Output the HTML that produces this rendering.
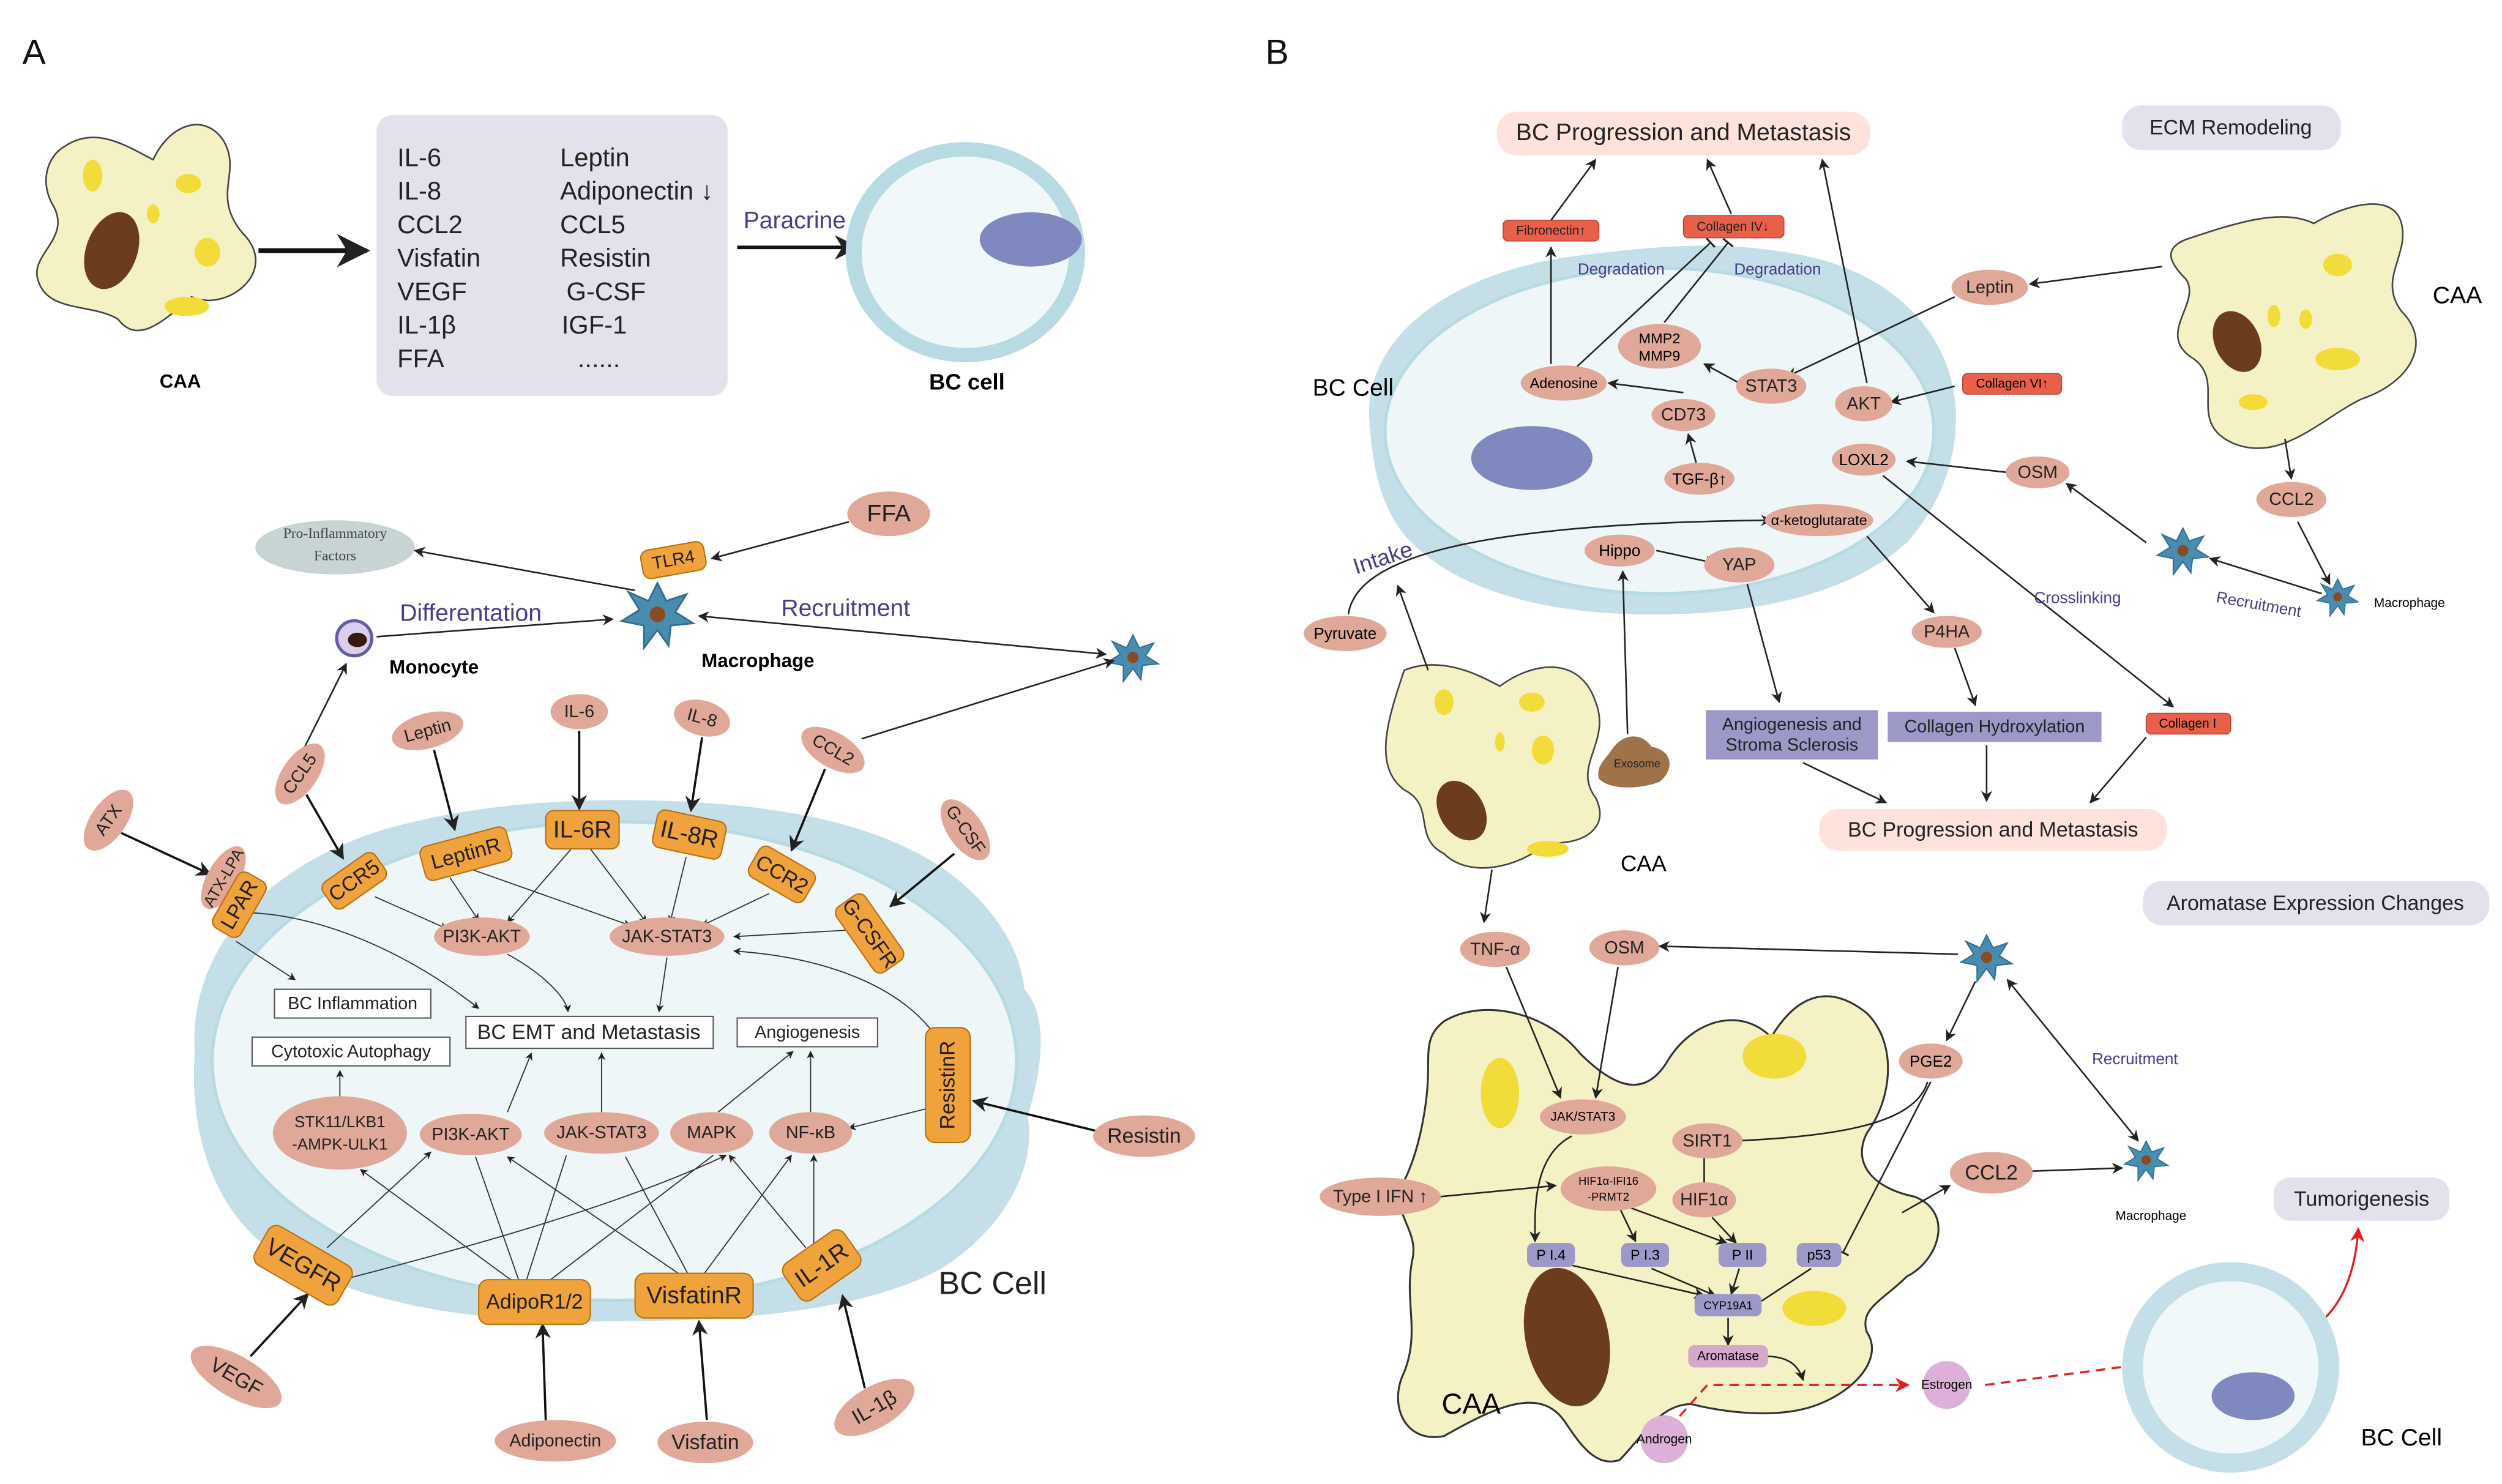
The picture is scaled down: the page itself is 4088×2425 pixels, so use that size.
<!DOCTYPE html>
<html><head><meta charset="utf-8"><style>
html,body{margin:0;padding:0;background:#fff;}
svg{display:block;}
text{font-family:"Liberation Sans",Arial,sans-serif;}
</style></head><body>
<svg width="4088" height="2425" viewBox="0 0 1568 930" xmlns="http://www.w3.org/2000/svg">
<defs>
<marker id="a" viewBox="0 0 10 10" refX="9" refY="5" markerWidth="7" markerHeight="7" orient="auto-start-reverse"><path d="M0,0 L10,5 L0,10 L3,5 z" fill="#222"/></marker>
<marker id="r" viewBox="0 0 10 10" refX="9" refY="5" markerWidth="7" markerHeight="7" orient="auto"><path d="M0,0 L10,5 L0,10 L3,5 z" fill="#e02020"/></marker>
<marker id="t" viewBox="0 0 10 10" refX="5" refY="5" markerWidth="8" markerHeight="8" orient="auto"><path d="M5,0 L5,10" stroke="#222" stroke-width="1.5"/></marker>
<g id="mac"><path d="M0,-14 L4,-6 L13,-9 L8,-1 L16,4 L6,5 L5,14 L0,7 L-6,15 L-6,5 L-16,3 L-8,-2 L-13,-10 L-4,-6 Z" fill="#4a8cb0" stroke="#2f6f93" stroke-width="0.8"/><circle r="3.5" fill="#8a4a22"/></g>
</defs>
<style>
.n{fill:#e0a898;}
.o{fill:#f0a23c;stroke:#b86f10;stroke-width:0.8;}
.l{stroke:#222;stroke-width:1;fill:none;}
.lt{stroke:#333;stroke-width:0.7;fill:none;}
.lk{stroke:#111;stroke-width:1.4;fill:none;}
.s{font-size:11px;fill:#222;text-anchor:middle;dominant-baseline:central;}
.m{font-size:13px;fill:#222;text-anchor:middle;dominant-baseline:central;}
.b{font-size:15px;fill:#222;text-anchor:middle;dominant-baseline:central;}
.p{fill:#4a3a8a;text-anchor:middle;}
.rd{fill:#e8604a;stroke:#c04030;stroke-width:0.6;}
.lv{fill:#9c98c8;}
</style>

<!-- ===== Panel A ===== -->
<text x="14" y="40" font-size="22" fill="#111">A</text>
<path d="M40,92 C60,78 80,92 96,100 C106,78 128,70 140,88 C152,108 132,122 152,146 C176,170 142,196 120,186 C102,202 86,216 74,200 C58,190 30,196 24,176 C18,160 44,150 34,130 C24,114 30,98 40,92 Z" fill="#f4f1c4" stroke="#444" stroke-width="1"/>
<ellipse cx="70" cy="157" rx="16" ry="25" transform="rotate(20 70 157)" fill="#6b3d1e"/>
<ellipse cx="58" cy="110" rx="6" ry="10" fill="#f2dc3a"/><ellipse cx="118" cy="115" rx="8" ry="6" fill="#f2dc3a"/><ellipse cx="130" cy="158" rx="8" ry="9" fill="#f2dc3a"/><ellipse cx="117" cy="192" rx="14" ry="6" fill="#f2dc3a"/><ellipse cx="96" cy="134" rx="4" ry="6" fill="#f2dc3a"/>
<text x="113" y="243" font-size="12" font-weight="bold" text-anchor="middle">CAA</text>
<line x1="162" y1="157" x2="230" y2="157" stroke="#111" stroke-width="3" marker-end="url(#a)"/>
<rect x="236" y="72" width="220" height="176" rx="10" fill="#e4e0ec"/>
<g font-size="16" fill="#222">
<text x="249" y="104">IL-6</text><text x="249" y="125">IL-8</text><text x="249" y="146">CCL2</text><text x="249" y="167">Visfatin</text><text x="249" y="188">VEGF</text><text x="249" y="209">IL-1β</text><text x="249" y="230">FFA</text>
<text x="351" y="104">Leptin</text><text x="351" y="125">Adiponectin ↓</text><text x="351" y="146">CCL5</text><text x="351" y="167">Resistin</text><text x="355" y="188">G-CSF</text><text x="352" y="209">IGF-1</text><text x="362" y="230">......</text>
</g>
<line x1="462" y1="155" x2="537" y2="155" stroke="#111" stroke-width="2.2" marker-end="url(#a)"/>
<text x="498" y="143" font-size="15" class="p">Paracrine</text>
<ellipse cx="605" cy="158" rx="75" ry="69" fill="#b8dae3"/>
<ellipse cx="605" cy="158" rx="65" ry="60" fill="#f0f8fa"/>
<ellipse cx="646" cy="150" rx="32" ry="17" fill="#8088c0"/>
<text x="606" y="244" font-size="14" font-weight="bold" text-anchor="middle">BC cell</text>

<!-- lower A top -->
<ellipse cx="210" cy="343" rx="50" ry="17" fill="#c8d4d4"/>
<text x="210" y="337" font-size="9" text-anchor="middle" fill="#444" style="font-family:'Liberation Serif',serif">Pro-Inflammatory</text>
<text x="210" y="351" font-size="9" text-anchor="middle" fill="#444" style="font-family:'Liberation Serif',serif">Factors</text>
<g transform="translate(412 385) scale(1.4) translate(-412 -385)"><use href="#mac" x="412" y="385"/></g>
<rect x="402" y="342" width="40" height="18" rx="5" class="o" transform="rotate(-10 422 351)"/><text x="422" y="351" class="s" transform="rotate(-10 422 351)">TLR4</text>
<ellipse cx="557" cy="322" rx="26" ry="14" class="n"/><text x="557" y="322" class="b">FFA</text>
<circle cx="222" cy="400" r="11" fill="#d8d0ec" stroke="#6a5aa0" stroke-width="2"/><ellipse cx="224" cy="401" rx="6" ry="4.5" fill="#3a1a10"/>
<text x="272" y="422" font-size="12" font-weight="bold" text-anchor="middle">Monocyte</text>
<text x="475" y="418" font-size="12" font-weight="bold" text-anchor="middle">Macrophage</text>
<text x="295" y="389" font-size="15" class="p">Differentation</text>
<text x="530" y="386" font-size="15" class="p">Recruitment</text>
<use href="#mac" x="710" y="412"/>
<line x1="398" y1="370" x2="260" y2="345" class="l" marker-end="url(#a)"/>
<line x1="532" y1="327" x2="446" y2="350" class="l" marker-end="url(#a)"/>
<line x1="236" y1="399" x2="384" y2="388" class="l" marker-end="url(#a)"/>
<line x1="693" y1="410" x2="438" y2="386" class="l" marker-start="url(#a)" marker-end="url(#a)"/>
<line x1="190" y1="470" x2="217" y2="416" class="l" marker-end="url(#a)"/>
<line x1="540" y1="463" x2="698" y2="414" class="l" marker-end="url(#a)"/>

<!-- big BC cell -->
<path d="M122,660 C118,600 160,545 240,520 C300,503 360,500 420,502 C500,505 570,520 610,560 C630,580 640,600 642,620 C660,640 650,680 644,700 C650,730 630,770 590,795 C545,820 470,828 390,828 C300,830 230,818 180,790 C140,768 118,720 122,660 Z" fill="#c4dfe7"/>
<ellipse cx="385" cy="665" rx="252" ry="150" fill="#eef6f8" stroke="#b8dae3" stroke-width="2"/>
<text x="622" y="811" font-size="20" text-anchor="middle" fill="#222">BC Cell</text>

<!-- ligand arrows -->
<line x1="76" y1="522" x2="132" y2="548" class="lk" marker-end="url(#a)"/>
<line x1="192" y1="498" x2="215" y2="538" class="lk" marker-end="url(#a)"/>
<line x1="272" y1="470" x2="285" y2="520" class="lk" marker-end="url(#a)"/>
<line x1="363" y1="458" x2="363" y2="507" class="lk" marker-end="url(#a)"/>
<line x1="440" y1="462" x2="433" y2="508" class="lk" marker-end="url(#a)"/>
<line x1="517" y1="482" x2="496" y2="533" class="lk" marker-end="url(#a)"/>
<line x1="598" y1="535" x2="558" y2="568" class="lk" marker-end="url(#a)"/>
<line x1="688" y1="709" x2="610" y2="690" class="lk" marker-end="url(#a)"/>
<line x1="157" y1="850" x2="193" y2="811" class="lk" marker-end="url(#a)"/>
<line x1="342" y1="890" x2="340" y2="830" class="lk" marker-end="url(#a)"/>
<line x1="443" y1="890" x2="438" y2="828" class="lk" marker-end="url(#a)"/>
<line x1="542" y1="870" x2="528" y2="812" class="lk" marker-end="url(#a)"/>

<!-- internal arrows -->
<g class="lt">
<line x1="235" y1="562" x2="280" y2="582" marker-end="url(#a)"/>
<line x1="282" y1="550" x2="300" y2="577" marker-end="url(#a)"/>
<line x1="296" y1="545" x2="395" y2="580" marker-end="url(#a)"/>
<line x1="358" y1="532" x2="318" y2="578" marker-end="url(#a)"/>
<line x1="370" y1="532" x2="405" y2="578" marker-end="url(#a)"/>
<line x1="430" y1="537" x2="420" y2="578" marker-end="url(#a)"/>
<line x1="482" y1="560" x2="440" y2="580" marker-end="url(#a)"/>
<line x1="530" y1="583" x2="460" y2="587" marker-end="url(#a)"/>
<path d="M590,655 C570,620 520,600 460,596" marker-end="url(#a)"/>
<line x1="148" y1="590" x2="185" y2="614" marker-end="url(#a)"/>
<path d="M145,572 C200,570 260,600 300,632" marker-end="url(#a)"/>
<path d="M318,598 C340,610 355,625 356,634" marker-end="url(#a)"/>
<line x1="418" y1="600" x2="413" y2="634" marker-end="url(#a)"/>
<line x1="213" y1="688" x2="213" y2="671" marker-end="url(#a)"/>
<line x1="318" y1="697" x2="333" y2="660" marker-end="url(#a)"/>
<line x1="377" y1="697" x2="377" y2="660" marker-end="url(#a)"/>
<line x1="450" y1="697" x2="497" y2="659" marker-end="url(#a)"/>
<line x1="508" y1="697" x2="508" y2="659" marker-end="url(#a)"/>
<line x1="580" y1="695" x2="532" y2="707" marker-end="url(#a)"/>
<line x1="205" y1="782" x2="270" y2="722" marker-end="url(#a)"/>
<path d="M215,802 C260,790 380,760 455,724" marker-end="url(#a)"/>
<line x1="320" y1="802" x2="226" y2="733" marker-end="url(#a)"/>
<line x1="325" y1="802" x2="298" y2="725"/>
<line x1="330" y1="802" x2="355" y2="724"/>
<line x1="345" y1="802" x2="447" y2="724"/>
<line x1="428" y1="800" x2="318" y2="725" marker-end="url(#a)"/>
<line x1="432" y1="800" x2="392" y2="725"/>
<line x1="440" y1="800" x2="496" y2="724" marker-end="url(#a)"/>
<line x1="505" y1="782" x2="457" y2="724" marker-end="url(#a)"/>
<line x1="510" y1="780" x2="510" y2="724" marker-end="url(#a)"/>
</g>

<!-- ligands -->
<g>
<ellipse cx="68" cy="514" rx="22" ry="11" class="n" transform="rotate(-55 68 514)"/><text x="68" y="514" class="s" transform="rotate(-55 68 514)">ATX</text>
<ellipse cx="188" cy="485" rx="22" ry="11" class="n" transform="rotate(-55 188 485)"/><text x="188" y="485" class="s" transform="rotate(-55 188 485)">CCL5</text>
<ellipse cx="268" cy="458" rx="23" ry="11" class="n" transform="rotate(-15 268 458)"/><text x="268" y="458" class="s" transform="rotate(-15 268 458)">Leptin</text>
<ellipse cx="363" cy="446" rx="18" ry="11" class="n"/><text x="363" y="446" class="s">IL-6</text>
<ellipse cx="440" cy="450" rx="18" ry="11" class="n" transform="rotate(15 440 450)"/><text x="440" y="450" class="s" transform="rotate(15 440 450)">IL-8</text>
<ellipse cx="522" cy="470" rx="22" ry="11" class="n" transform="rotate(30 522 470)"/><text x="522" y="470" class="s" transform="rotate(30 522 470)">CCL2</text>
<ellipse cx="605" cy="520" rx="22" ry="11" class="n" transform="rotate(55 605 520)"/><text x="605" y="520" class="s" transform="rotate(55 605 520)">G-CSF</text>
<ellipse cx="717" cy="712" rx="32" ry="13" class="n"/><text x="717" y="712" class="m">Resistin</text>
<ellipse cx="148" cy="863" rx="32" ry="13" class="n" transform="rotate(30 148 863)"/><text x="148" y="863" class="m" transform="rotate(30 148 863)">VEGF</text>
<ellipse cx="348" cy="903" rx="38" ry="13" class="n"/><text x="348" y="903" class="s">Adiponectin</text>
<ellipse cx="442" cy="904" rx="30" ry="13" class="n"/><text x="442" y="904" class="m">Visfatin</text>
<ellipse cx="548" cy="882" rx="28" ry="13" class="n" transform="rotate(-30 548 882)"/><text x="548" y="882" class="m" transform="rotate(-30 548 882)">IL-1β</text>
</g>
<!-- receptors -->
<g>
<ellipse cx="140" cy="550" rx="22" ry="10" class="n" transform="rotate(-60 140 550)"/><text x="140" y="550" font-size="10" fill="#222" text-anchor="middle" dominant-baseline="central" transform="rotate(-60 140 550)">ATX-LPA</text>
<g transform="rotate(-60 150 567)"><rect x="130" y="557" width="40" height="20" rx="5" class="o"/><text x="150" y="567" class="m">LPAR</text></g>
<g transform="rotate(-35 222 552)"><rect x="202" y="542" width="40" height="20" rx="5" class="o"/><text x="222" y="552" class="m">CCR5</text></g>
<g transform="rotate(-15 292 535)"><rect x="264" y="524" width="56" height="22" rx="5" class="o"/><text x="292" y="535" class="m">LeptinR</text></g>
<g><rect x="342" y="508" width="46" height="24" rx="5" class="o"/><text x="365" y="520" class="b">IL-6R</text></g>
<g transform="rotate(12 432 523)"><rect x="410" y="511" width="44" height="24" rx="5" class="o"/><text x="432" y="523" class="b">IL-8R</text></g>
<g transform="rotate(30 490 548)"><rect x="470" y="537" width="40" height="22" rx="5" class="o"/><text x="490" y="548" class="m">CCR2</text></g>
<g transform="rotate(55 545 585)"><rect x="520" y="574" width="50" height="22" rx="5" class="o"/><text x="545" y="585" class="m">G-CSFR</text></g>
<g transform="rotate(-90 594 680)"><rect x="558" y="666" width="72" height="28" rx="6" class="o"/><text x="594" y="680" class="m">ResistinR</text></g>
<g transform="rotate(30 190 793)"><rect x="160" y="779" width="60" height="28" rx="6" class="o"/><text x="190" y="793" class="b">VEGFR</text></g>
<g><rect x="300" y="802" width="70" height="28" rx="6" class="o"/><text x="335" y="816" class="m">AdipoR1/2</text></g>
<g><rect x="398" y="798" width="74" height="28" rx="6" class="o"/><text x="435" y="812" class="b">VisfatinR</text></g>
<g transform="rotate(-35 515 793)"><rect x="492" y="779" width="46" height="28" rx="6" class="o"/><text x="515" y="793" class="b">IL-1R</text></g>
</g>
<!-- internal nodes -->
<ellipse cx="302" cy="587" rx="30" ry="12" class="n"/><text x="302" y="587" class="s">PI3K-AKT</text>
<ellipse cx="418" cy="587" rx="36" ry="12" class="n"/><text x="418" y="587" class="s">JAK-STAT3</text>
<rect x="172" y="620" width="98" height="18" fill="#fff" stroke="#555" stroke-width="0.8"/><text x="221" y="629" class="s">BC Inflammation</text>
<rect x="158" y="650" width="124" height="18" fill="#fff" stroke="#555" stroke-width="0.8"/><text x="220" y="659" class="s">Cytotoxic Autophagy</text>
<rect x="292" y="637" width="155" height="20" fill="#fff" stroke="#555" stroke-width="0.8"/><text x="369" y="647" class="m">BC EMT and Metastasis</text>
<rect x="462" y="638" width="88" height="18" fill="#fff" stroke="#555" stroke-width="0.8"/><text x="506" y="647" class="s">Angiogenesis</text>
<ellipse cx="213" cy="710" rx="42" ry="23" class="n"/><text x="213" y="703" font-size="10" text-anchor="middle" dominant-baseline="central" fill="#222">STK11/LKB1</text><text x="213" y="717" font-size="10" text-anchor="middle" dominant-baseline="central" fill="#222">-AMPK-ULK1</text>
<ellipse cx="295" cy="711" rx="32" ry="13" class="n"/><text x="295" y="711" class="s">PI3K-AKT</text>
<ellipse cx="377" cy="710" rx="36" ry="13" class="n"/><text x="377" y="710" class="s">JAK-STAT3</text>
<ellipse cx="446" cy="710" rx="26" ry="13" class="n"/><text x="446" y="710" class="s">MAPK</text>
<ellipse cx="508" cy="710" rx="26" ry="13" class="n"/><text x="508" y="710" class="s">NF-κB</text>

<!-- ===== Panel B ===== -->
<text x="793" y="40" font-size="22" fill="#111">B</text>
<rect x="938" y="70" width="234" height="27" rx="12" fill="#fde3db"/><text x="1055" y="83" class="b">BC Progression and Metastasis</text>
<rect x="1330" y="66" width="137" height="28" rx="12" fill="#e4e0ec"/><text x="1398" y="80" class="m">ECM Remodeling</text>
<!-- BC cell B -->
<path d="M858,262 C856,210 910,170 990,160 C1040,154 1080,150 1130,160 C1180,170 1212,200 1222,235 C1232,270 1222,310 1195,340 C1160,372 1100,385 1040,385 C970,386 910,370 880,335 C864,315 860,290 858,262 Z" fill="#c4dfe7"/>
<ellipse cx="1040" cy="270" rx="172" ry="102" fill="#eef6f8" stroke="#b8dae3" stroke-width="2"/>
<ellipse cx="960" cy="287" rx="38" ry="20" fill="#8088c0"/>
<text x="848" y="248" font-size="15" text-anchor="middle">BC Cell</text>
<!-- CAA top right -->
<path d="M1370,150 C1400,140 1430,130 1450,140 C1470,128 1500,120 1505,140 C1510,160 1490,175 1505,195 C1525,215 1510,240 1480,250 C1455,262 1430,290 1400,278 C1370,265 1395,240 1375,225 C1350,210 1380,190 1370,175 C1360,165 1355,156 1370,150 Z" fill="#f4f1c4" stroke="#444" stroke-width="1"/>
<ellipse cx="1402" cy="214" rx="14" ry="20" transform="rotate(-25 1402 214)" fill="#6b3d1e"/>
<ellipse cx="1465" cy="166" rx="9" ry="7" fill="#f2dc3a"/><ellipse cx="1465" cy="225" rx="14" ry="7" fill="#f2dc3a"/><ellipse cx="1425" cy="198" rx="4" ry="7" fill="#f2dc3a"/><ellipse cx="1412" cy="252" rx="9" ry="5" fill="#f2dc3a"/><ellipse cx="1445" cy="200" rx="4" ry="6" fill="#f2dc3a"/>
<text x="1540" y="190" font-size="15" text-anchor="middle">CAA</text>
<!-- CAA middle -->
<path d="M880,420 C905,410 930,425 940,430 C960,415 990,410 1000,440 C1010,465 985,480 1000,500 C1010,520 990,530 970,528 C950,545 920,550 905,535 C885,525 900,505 880,495 C860,480 870,450 880,420 Z" fill="#f4f1c4" stroke="#444" stroke-width="1"/>
<ellipse cx="916" cy="508" rx="14" ry="20" transform="rotate(-30 916 508)" fill="#6b3d1e"/>
<ellipse cx="905" cy="440" rx="6" ry="8" fill="#f2dc3a"/><ellipse cx="960" cy="440" rx="8" ry="6" fill="#f2dc3a"/><ellipse cx="967" cy="470" rx="7" ry="9" fill="#f2dc3a"/><ellipse cx="970" cy="532" rx="13" ry="5" fill="#f2dc3a"/><ellipse cx="940" cy="465" rx="3" ry="6" fill="#f2dc3a"/>
<path d="M1010,470 C1018,458 1030,460 1035,468 C1048,470 1050,482 1040,490 C1030,494 1010,496 1002,488 C1000,480 1006,476 1010,470 Z" fill="#a0724a"/>
<text x="1026" y="481" font-size="7" text-anchor="middle" fill="#222">Exosome</text>
<text x="1030" y="546" font-size="14" text-anchor="middle">CAA</text>
<!-- B top arrows -->
<g class="l">
<line x1="972" y1="228" x2="972" y2="155" marker-end="url(#a)"/>
<line x1="972" y1="138" x2="1000" y2="100" marker-end="url(#a)"/>
<line x1="988" y1="230" x2="1072" y2="152" marker-end="url(#t)"/>
<line x1="1043" y1="202" x2="1083" y2="152" marker-end="url(#t)"/>
<line x1="1085" y1="134" x2="1070" y2="100" marker-end="url(#a)"/>
<line x1="1170" y1="240" x2="1142" y2="100" marker-end="url(#a)"/>
<line x1="1090" y1="240" x2="1068" y2="228" marker-end="url(#a)"/>
<line x1="1055" y1="246" x2="1008" y2="240" marker-end="url(#a)"/>
<line x1="1063" y1="290" x2="1058" y2="272" marker-end="url(#a)"/>
<line x1="1225" y1="186" x2="1120" y2="236" marker-end="url(#a)"/>
<line x1="1355" y1="167" x2="1272" y2="178" marker-end="url(#a)"/>
<line x1="1225" y1="242" x2="1185" y2="252" marker-end="url(#a)"/>
<line x1="1258" y1="296" x2="1195" y2="289" marker-end="url(#a)"/>
<line x1="1345" y1="340" x2="1295" y2="303" marker-end="url(#a)"/>
<line x1="1432" y1="275" x2="1436" y2="300" marker-end="url(#a)"/>
<line x1="1440" y1="327" x2="1460" y2="366" marker-end="url(#a)"/>
<line x1="1455" y1="372" x2="1385" y2="350" marker-end="url(#a)"/>
<line x1="1180" y1="298" x2="1362" y2="443" marker-end="url(#a)"/>
<line x1="1038" y1="345" x2="1075" y2="353" marker-end="url(#a)"/>
<line x1="1020" y1="460" x2="1017" y2="358" marker-end="url(#a)"/>
<line x1="1095" y1="366" x2="1115" y2="440" marker-end="url(#a)"/>
<line x1="1170" y1="336" x2="1212" y2="384" marker-end="url(#a)"/>
<line x1="1225" y1="406" x2="1238" y2="442" marker-end="url(#a)"/>
<line x1="1130" y1="478" x2="1182" y2="503" marker-end="url(#a)"/>
<line x1="1245" y1="467" x2="1245" y2="502" marker-end="url(#a)"/>
<line x1="1345" y1="462" x2="1310" y2="503" marker-end="url(#a)"/>
<path d="M845,385 C850,350 920,328 1110,326" marker-end="url(#a)"/>
<line x1="895" y1="420" x2="876" y2="367" marker-end="url(#a)"/>
<line x1="935" y1="545" x2="930" y2="578" marker-end="url(#a)"/>
</g>
<rect x="942" y="138" width="60" height="13" rx="3" class="rd"/><text x="972" y="144.5" font-size="8" text-anchor="middle" dominant-baseline="central" fill="#222">Fibronectin↑</text>
<rect x="1055" y="135" width="63" height="14" rx="3" class="rd"/><text x="1086" y="142" font-size="8" text-anchor="middle" dominant-baseline="central" fill="#222">Collagen IV↓</text>
<text x="1016" y="172" font-size="10" class="p">Degradation</text>
<text x="1114" y="172" font-size="10" class="p">Degradation</text>
<ellipse cx="1040" cy="217" rx="26" ry="14" class="n"/><text x="1040" y="212" font-size="9" text-anchor="middle" dominant-baseline="central">MMP2</text><text x="1040" y="223" font-size="9" text-anchor="middle" dominant-baseline="central">MMP9</text>
<ellipse cx="980" cy="240" rx="27" ry="11" class="n"/><text x="980" y="240" font-size="9" text-anchor="middle" dominant-baseline="central">Adenosine</text>
<ellipse cx="1055" cy="260" rx="20" ry="10" class="n"/><text x="1055" y="260" class="s">CD73</text>
<ellipse cx="1065" cy="300" rx="22" ry="10" class="n"/><text x="1065" y="300" font-size="10" text-anchor="middle" dominant-baseline="central">TGF-β↑</text>
<ellipse cx="1110" cy="242" rx="22" ry="11" class="n"/><text x="1110" y="242" class="s">STAT3</text>
<ellipse cx="1168" cy="253" rx="18" ry="11" class="n"/><text x="1168" y="253" class="s">AKT</text>
<ellipse cx="1168" cy="288" rx="20" ry="10" class="n"/><text x="1168" y="288" font-size="10" text-anchor="middle" dominant-baseline="central">LOXL2</text>
<ellipse cx="1140" cy="326" rx="34" ry="10" class="n"/><text x="1140" y="326" font-size="9" text-anchor="middle" dominant-baseline="central">α-ketoglutarate</text>
<ellipse cx="1015" cy="345" rx="22" ry="10" class="n"/><text x="1015" y="345" font-size="10" text-anchor="middle" dominant-baseline="central">Hippo</text>
<ellipse cx="1090" cy="354" rx="22" ry="11" class="n"/><text x="1090" y="354" class="s">YAP</text>
<ellipse cx="1247" cy="180" rx="24" ry="11" class="n"/><text x="1247" y="180" class="s">Leptin</text>
<rect x="1230" y="234" width="62" height="13" rx="3" class="rd"/><text x="1261" y="240.5" font-size="8" text-anchor="middle" dominant-baseline="central">Collagen VI↑</text>
<ellipse cx="1277" cy="296" rx="20" ry="10" class="n"/><text x="1277" y="296" class="s">OSM</text>
<ellipse cx="1436" cy="313" rx="22" ry="11" class="n"/><text x="1436" y="313" class="s">CCL2</text>
<ellipse cx="1220" cy="396" rx="22" ry="10" class="n"/><text x="1220" y="396" class="s">P4HA</text>
<rect x="1345" y="447" width="53" height="13" rx="3" class="rd"/><text x="1371" y="453.5" font-size="8" text-anchor="middle" dominant-baseline="central">Collagen I</text>
<ellipse cx="843" cy="397" rx="26" ry="11" class="n"/><text x="843" y="397" font-size="10" text-anchor="middle" dominant-baseline="central">Pyruvate</text>
<rect x="1069" y="445" width="108" height="31" class="lv"/><text x="1123" y="454" class="s">Angiogenesis and</text><text x="1123" y="467" class="s">Stroma Sclerosis</text>
<rect x="1183" y="446" width="134" height="19" class="lv"/><text x="1250" y="455.5" class="s">Collagen Hydroxylation</text>
<rect x="1140" y="507" width="218" height="26" rx="12" fill="#fde3db"/><text x="1249" y="520" class="m">BC Progression and Metastasis</text>
<use href="#mac" x="1368" y="345"/>
<g transform="translate(1465 374) scale(0.8) translate(-1465 -374)"><use href="#mac" x="1465" y="374"/></g>
<text x="1510" y="378" font-size="8" text-anchor="middle" dominant-baseline="central">Macrophage</text>
<text x="1415" y="382" font-size="10" class="p" transform="rotate(10 1415 382)">Recruitment</text>
<text x="1302" y="378" font-size="10" class="p">Crosslinking</text>
<text x="868" y="354" font-size="14" class="p" transform="rotate(-18 868 354)">Intake</text>

<!-- Aromatase section -->
<rect x="1343" y="552" width="217" height="28" rx="12" fill="#e4e0ec"/><text x="1451" y="566" class="m">Aromatase Expression Changes</text>
<path d="M905,640 C930,625 970,635 990,660 C1010,680 1030,690 1045,665 C1060,640 1090,630 1110,650 C1125,625 1145,615 1170,635 C1190,655 1185,690 1170,710 C1160,730 1175,745 1200,750 C1225,760 1215,790 1195,800 C1180,815 1165,820 1170,835 C1180,850 1165,870 1140,880 C1115,890 1080,885 1060,880 C1040,880 1030,900 1015,915 C1000,920 990,905 980,890 C965,870 940,880 905,900 C880,905 870,880 880,860 C890,835 880,815 885,790 C890,770 870,760 880,740 C890,720 895,690 895,670 C895,655 895,648 905,640 Z" fill="#f4f1c4" stroke="#333" stroke-width="1.2"/>
<ellipse cx="940" cy="685" rx="12" ry="22" fill="#f2dc3a"/>
<ellipse cx="1112" cy="662" rx="20" ry="14" fill="#f2dc3a"/>
<ellipse cx="1137" cy="820" rx="20" ry="11" fill="#f2dc3a"/>
<ellipse cx="982" cy="838" rx="26" ry="44" transform="rotate(-12 982 838)" fill="#6b3d1e"/>
<text x="922" y="886" font-size="18" text-anchor="middle">CAA</text>
<use href="#mac" x="1245" y="600"/>
<g transform="translate(1345 727) scale(0.85) translate(-1345 -727)"><use href="#mac" x="1345" y="727"/></g>
<text x="1348" y="762" font-size="8" text-anchor="middle" dominant-baseline="central">Macrophage</text>
<text x="1338" y="667" font-size="10" class="p">Recruitment</text>
<g class="l">
<line x1="944" y1="606" x2="978" y2="688" marker-end="url(#a)"/>
<line x1="1014" y1="606" x2="1000" y2="688" marker-end="url(#a)"/>
<line x1="1227" y1="598" x2="1040" y2="593" marker-end="url(#a)"/>
<line x1="1238" y1="615" x2="1220" y2="652" marker-end="url(#a)"/>
<line x1="1340" y1="715" x2="1258" y2="614" marker-start="url(#a)" marker-end="url(#a)"/>
<line x1="1272" y1="734" x2="1330" y2="732" marker-end="url(#a)"/>
<line x1="1192" y1="760" x2="1222" y2="743" marker-end="url(#a)"/>
<line x1="902" y1="750" x2="975" y2="743" marker-end="url(#a)"/>
<path d="M985,712 C960,725 962,760 962,778" marker-end="url(#a)"/>
<path d="M1208,678 C1200,705 1150,712 1088,715" marker-end="url(#t)"/>
<line x1="1068" y1="725" x2="1068" y2="742" marker-end="url(#t)"/>
<line x1="1210" y1="678" x2="1155" y2="785" marker-end="url(#t)"/>
<line x1="1015" y1="757" x2="1025" y2="778" marker-end="url(#a)"/>
<line x1="1022" y1="757" x2="1082" y2="779" marker-end="url(#a)"/>
<line x1="1073" y1="763" x2="1088" y2="779" marker-end="url(#a)"/>
<line x1="985" y1="793" x2="1068" y2="812" marker-end="url(#a)"/>
<line x1="1035" y1="795" x2="1075" y2="812" marker-end="url(#a)"/>
<line x1="1090" y1="795" x2="1085" y2="811" marker-end="url(#a)"/>
<line x1="1135" y1="795" x2="1100" y2="818" marker-end="url(#t)"/>
<line x1="1083" y1="826" x2="1083" y2="843" marker-end="url(#a)"/>
<path d="M1106,850 C1120,850 1127,855 1130,865" marker-end="url(#a)"/>
</g>
<g stroke="#e02020" stroke-width="1.3" fill="none">
<path d="M1046,895 L1070,868 L1196,868" stroke-dasharray="6 4" marker-end="url(#r)"/>
<line x1="1244" y1="868" x2="1366" y2="852" stroke-dasharray="6 4" marker-end="url(#r)"/>
<path d="M1416,845 C1460,838 1475,810 1478,770" marker-end="url(#r)"/>
</g>
<ellipse cx="937" cy="595" rx="22" ry="11" class="n"/><text x="937" y="595" class="s">TNF-α</text>
<ellipse cx="1018" cy="594" rx="22" ry="11" class="n"/><text x="1018" y="594" class="s">OSM</text>
<ellipse cx="992" cy="700" rx="27" ry="11" class="n"/><text x="992" y="700" font-size="8" text-anchor="middle" dominant-baseline="central">JAK/STAT3</text>
<ellipse cx="1070" cy="715" rx="22" ry="11" class="n"/><text x="1070" y="715" class="s">SIRT1</text>
<ellipse cx="865" cy="750" rx="38" ry="12" class="n"/><text x="865" y="750" class="s">Type I  IFN ↑</text>
<ellipse cx="1008" cy="745" rx="30" ry="14" class="n"/><text x="1008" y="740" font-size="7" text-anchor="middle" dominant-baseline="central">HIF1α-IFI16</text><text x="1008" y="750" font-size="7" text-anchor="middle" dominant-baseline="central">-PRMT2</text>
<ellipse cx="1068" cy="752" rx="20" ry="11" class="n"/><text x="1068" y="752" class="s">HIF1α</text>
<ellipse cx="1210" cy="665" rx="20" ry="11" class="n"/><text x="1210" y="665" font-size="10" text-anchor="middle" dominant-baseline="central">PGE2</text>
<ellipse cx="1248" cy="735" rx="26" ry="13" class="n"/><text x="1248" y="735" class="m">CCL2</text>
<rect x="957" y="779" width="30" height="15" rx="4" fill="#9c98c8"/><text x="972" y="786.5" font-size="9" text-anchor="middle" dominant-baseline="central">P I.4</text>
<rect x="1016" y="779" width="30" height="15" rx="4" fill="#9c98c8"/><text x="1031" y="786.5" font-size="9" text-anchor="middle" dominant-baseline="central">P I.3</text>
<rect x="1077" y="779" width="30" height="15" rx="4" fill="#9c98c8"/><text x="1092" y="786.5" font-size="9" text-anchor="middle" dominant-baseline="central">P II</text>
<rect x="1126" y="779" width="28" height="15" rx="4" fill="#9c98c8"/><text x="1140" y="786.5" font-size="9" text-anchor="middle" dominant-baseline="central">p53</text>
<rect x="1062" y="811" width="42" height="14" rx="4" fill="#9c98c8"/><text x="1083" y="818" font-size="7" text-anchor="middle" dominant-baseline="central">CYP19A1</text>
<rect x="1058" y="843" width="50" height="14" rx="4" fill="#d4a8c8"/><text x="1083" y="850" font-size="8" text-anchor="middle" dominant-baseline="central">Aromatase</text>
<circle cx="1220" cy="868" r="15" fill="#dcb0d8"/><text x="1220" y="868" font-size="8" text-anchor="middle" dominant-baseline="central">Estrogen</text>
<circle cx="1043" cy="902" r="15" fill="#dcb0d8"/><text x="1043" y="902" font-size="8" text-anchor="middle" dominant-baseline="central">Androgen</text>
<rect x="1425" y="738" width="110" height="27" rx="10" fill="#e4e0ec"/><text x="1480" y="751.5" class="m">Tumorigenesis</text>
<ellipse cx="1398" cy="857" rx="68" ry="66" fill="#c4dfe7"/>
<ellipse cx="1398" cy="857" rx="55" ry="54" fill="#f0f8fa"/>
<ellipse cx="1412" cy="875" rx="26" ry="15" fill="#8088c0"/>
<text x="1505" y="906" font-size="15" text-anchor="middle">BC Cell</text>
</svg>
</body></html>
